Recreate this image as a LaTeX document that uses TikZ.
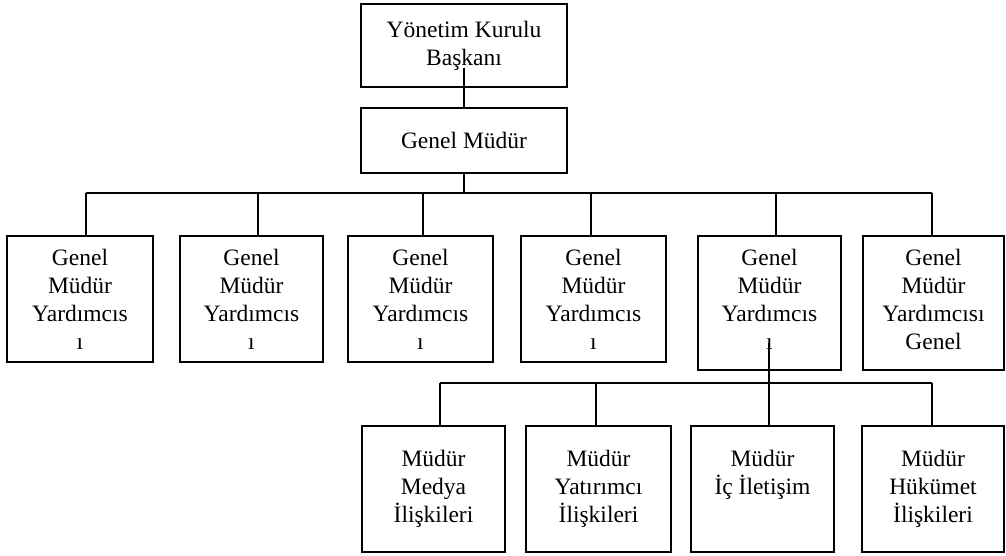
\documentclass[tikz,border=0pt]{standalone}
\usepackage{fontspec}
\setmainfont{Liberation Serif}
\newcommand{\lowpad}{\rule[-8pt]{0pt}{8pt}}
\begin{document}
\begin{tikzpicture}[x=1pt,y=-1pt,
  box/.style={draw,line width=1.5pt,align=center,inner sep=0pt,
    font=\fontsize{23.5}{28}\selectfont},
  link/.style={line width=1.5pt}]
\useasboundingbox (0,0) rectangle (1006,556);
% top levels
\node[box,minimum width=206,minimum height=83] (top) at (464,45.5) {Yönetim Kurulu\\Başkanı};
\node[box,minimum width=206,minimum height=65] (gm) at (464,140.5) {Genel Müdür};
% second row
\node[box,minimum width=146,minimum height=126] (g1) at (80,299) {Genel\\Müdür\\Yardımcıs\\ı};
\node[box,minimum width=143,minimum height=126] (g2) at (251.5,299) {Genel\\Müdür\\Yardımcıs\\ı};
\node[box,minimum width=145,minimum height=126] (g3) at (420.5,299) {Genel\\Müdür\\Yardımcıs\\ı};
\node[box,minimum width=145,minimum height=126] (g4) at (593.5,299) {Genel\\Müdür\\Yardımcıs\\ı};
\node[box,minimum width=143,minimum height=134] (g5) at (769.5,303) {Genel\\Müdür\\Yardımcıs\\ı\lowpad};
\node[box,minimum width=141,minimum height=134] (g6) at (933.5,303) {Genel\\Müdür\\Yardımcısı\\Genel\lowpad};
% third row
\node[box,minimum width=143,minimum height=126] (b1) at (433.5,489) {Müdür\\Medya\\İlişkileri};
\node[box,minimum width=145,minimum height=126] (b2) at (598.5,489) {Müdür\\Yatırımcı\\İlişkileri};
\node[box,minimum width=143,minimum height=126] (b3) at (762.5,489) {Müdür\\İç İletişim\\\vphantom{İlişkileri}};
\node[box,minimum width=142,minimum height=126] (b4) at (933,489) {Müdür\\Hükümet\\İlişkileri};
% connectors top
\coordinate (tstart) at (464,68);
\draw[link] (tstart) -- (gm.north);
\coordinate (bar) at (464,193);
\draw[link] (gm.south) -- (bar);
\coordinate (d1) at (86,193);
\coordinate (d2) at (258,193);
\coordinate (d3) at (423,193);
\coordinate (d4) at (591,193);
\coordinate (d5) at (776,193);
\coordinate (d6) at (932,193);
\draw[link] (d1) -- (d6);
\draw[link] (d1) -- (d1 |- g1.north);
\draw[link] (d2) -- (d2 |- g2.north);
\draw[link] (d3) -- (d3 |- g3.north);
\draw[link] (d4) -- (d4 |- g4.north);
\draw[link] (d5) -- (d5 |- g5.north);
\draw[link] (d6) -- (d6 |- g6.north);
% connectors bottom
\coordinate (s5) at (769,343);
\coordinate (e1) at (440,383);
\coordinate (e2) at (596,383);
\coordinate (e3) at (769,383);
\coordinate (e4) at (932,383);
\draw[link] (s5) -- (e3);
\draw[link] (e1) -- (e4);
\draw[link] (e1) -- (e1 |- b1.north);
\draw[link] (e2) -- (e2 |- b2.north);
\draw[link] (e3) -- (e3 |- b3.north);
\draw[link] (e4) -- (e4 |- b4.north);
\end{tikzpicture}
\end{document}
